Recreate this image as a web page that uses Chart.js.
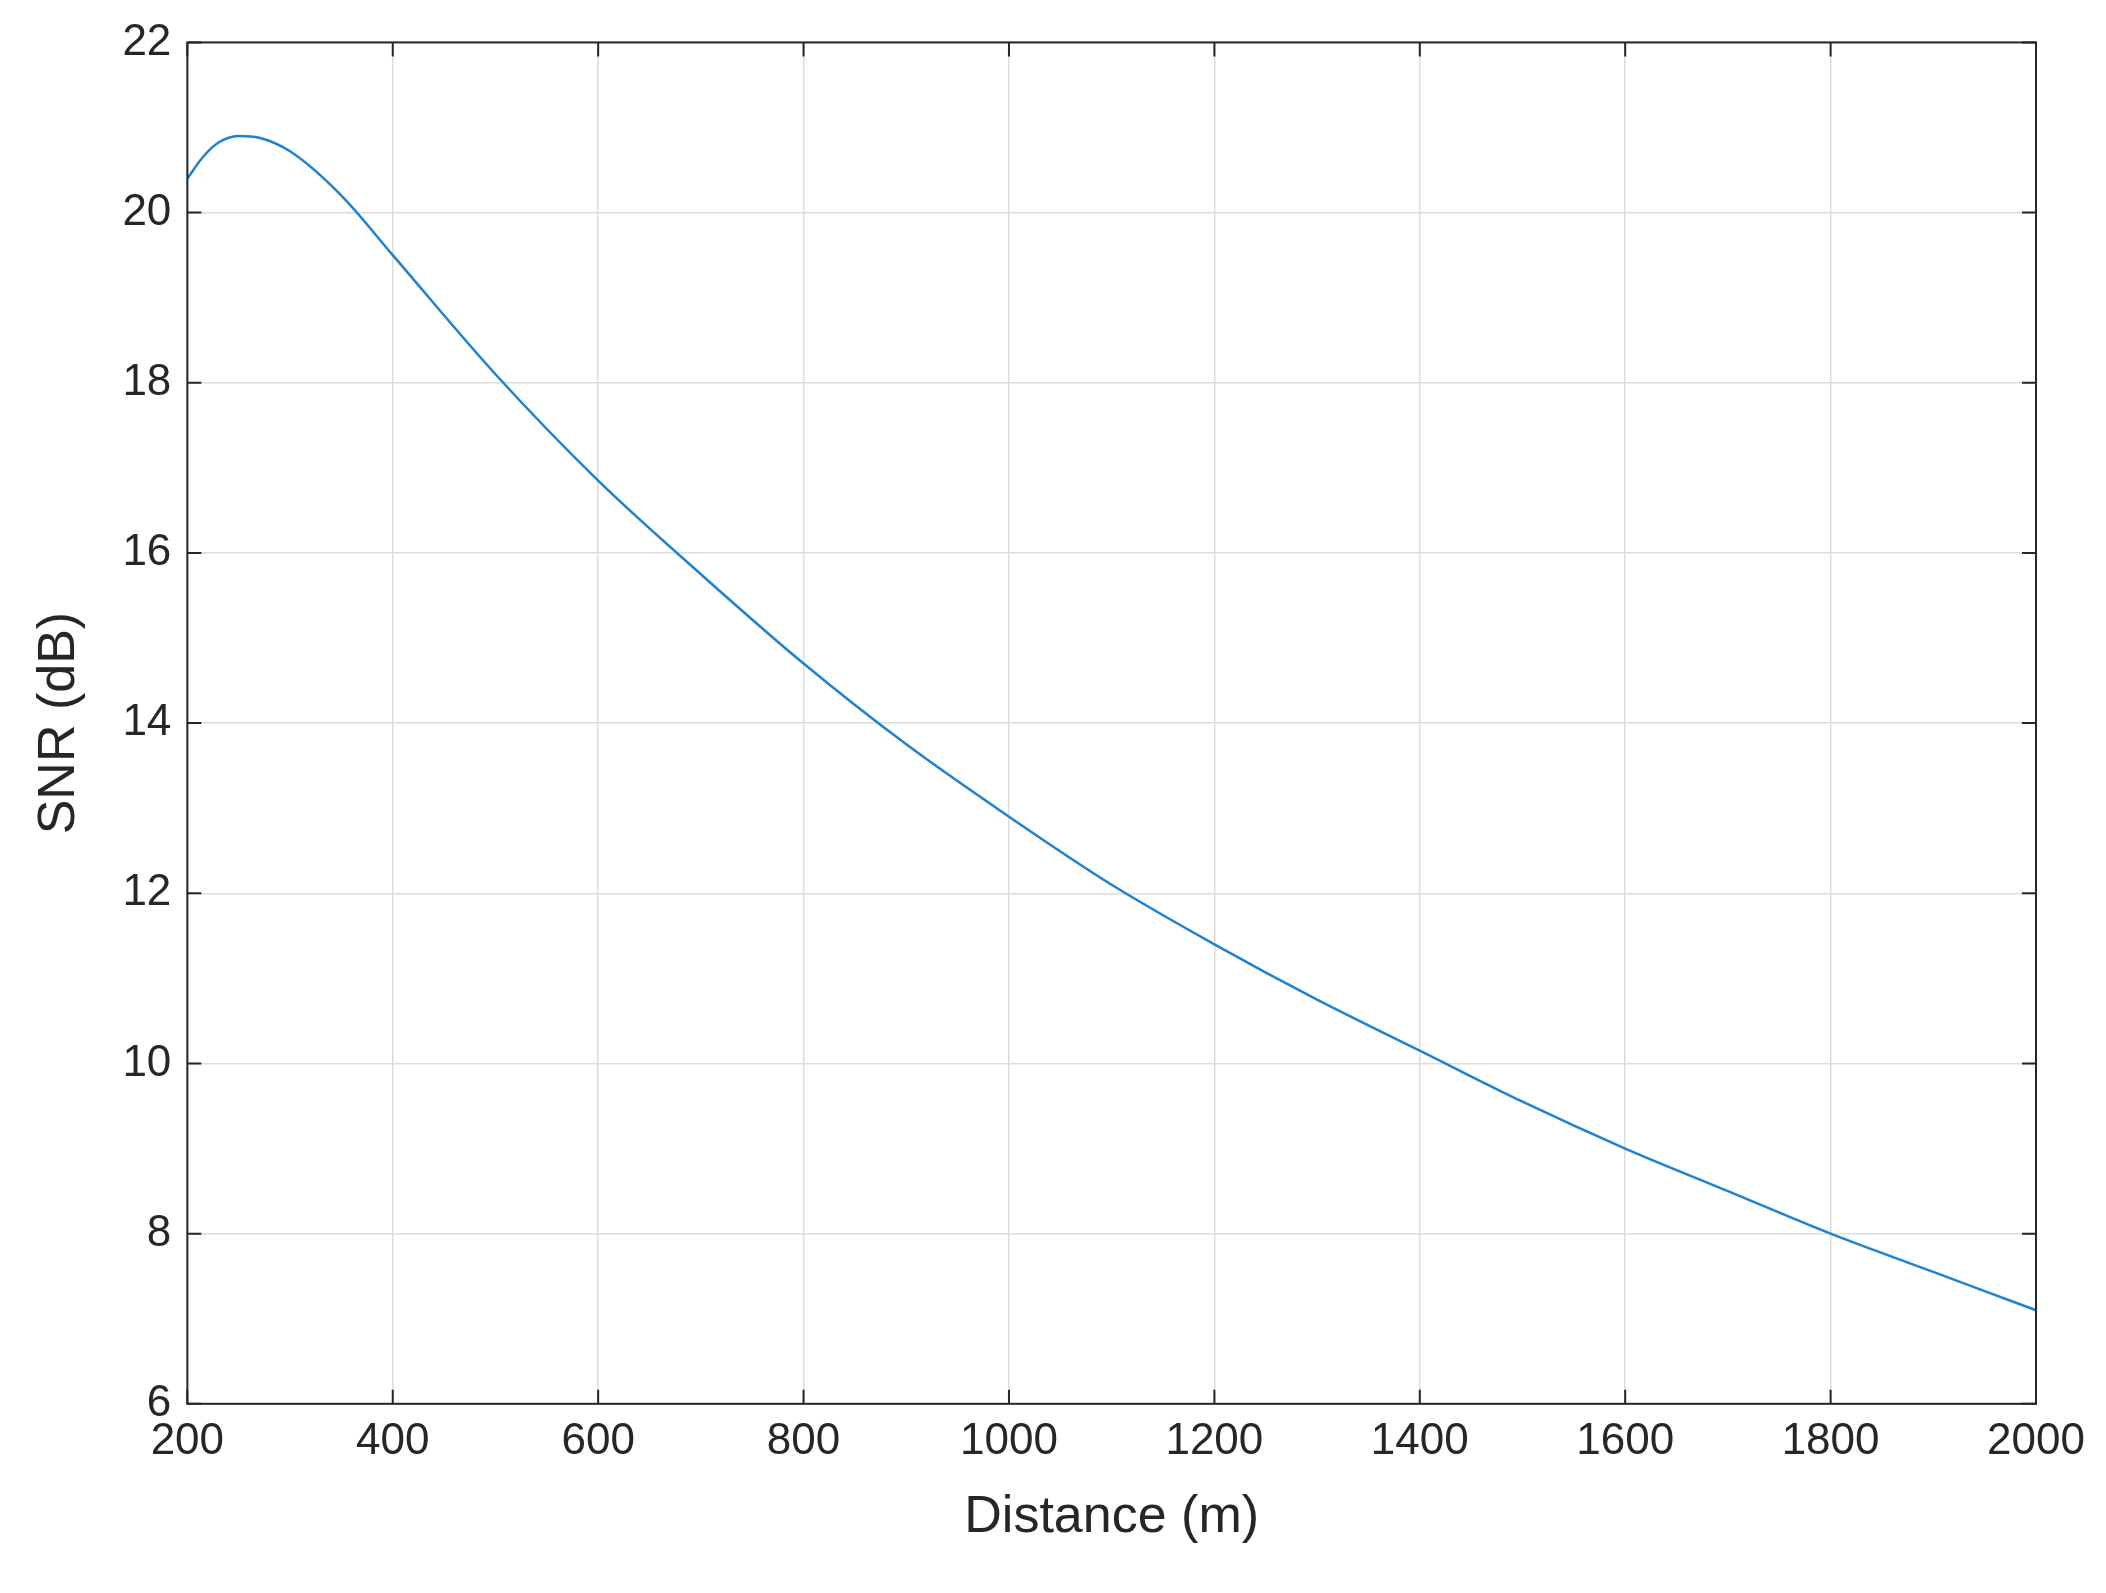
<!DOCTYPE html>
<html>
<head>
<meta charset="utf-8">
<script src="https://cdn.jsdelivr.net/npm/chart.js@4/dist/chart.umd.min.js"></script>
<style>
  body { margin: 0; background: #fff; }
</style>
</head>
<body>
<canvas id="c" width="2106" height="1593"></canvas>
<script>
const distance = [200, 215, 230, 250, 270, 300, 350, 400, 500, 600, 700, 800, 900, 1000, 1100, 1200, 1300, 1400, 1500, 1600, 1700, 1800, 1900, 2000];
const snr = [20.4, 20.65, 20.82, 20.9, 20.88, 20.72, 20.2, 19.5, 18.1, 16.85, 15.75, 14.7, 13.75, 12.9, 12.1, 11.4, 10.75, 10.15, 9.55, 9.0, 8.5, 8.0, 7.55, 7.1];
const xTicks = [200, 400, 600, 800, 1000, 1200, 1400, 1600, 1800, 2000];
const yTicks = [6, 8, 10, 12, 14, 16, 18, 20, 22];

// MATLAB style box with inward ticks
const boxPlugin = {
    id: 'box',
    afterDraw(chart) {
        const { ctx, chartArea: a, scales } = chart;
        ctx.save();
        ctx.strokeStyle = '#262626';
        ctx.lineWidth = 2;
        ctx.strokeRect(a.left, a.top, a.right - a.left, a.bottom - a.top);
        const len = 14;
        ctx.beginPath();
        xTicks.forEach(v => {
            const x = scales.x.getPixelForValue(v);
            ctx.moveTo(x, a.bottom); ctx.lineTo(x, a.bottom - len);
            ctx.moveTo(x, a.top); ctx.lineTo(x, a.top + len);
        });
        yTicks.forEach(v => {
            const y = scales.y.getPixelForValue(v);
            ctx.moveTo(a.left, y); ctx.lineTo(a.left + len, y);
            ctx.moveTo(a.right, y); ctx.lineTo(a.right - len, y);
        });
        ctx.stroke();
        ctx.restore();
    }
};

const tickFont = { family: 'Liberation Sans, Arial, sans-serif', size: 44 };
const titleFont = { family: 'Liberation Sans, Arial, sans-serif', size: 52 };

new Chart(document.getElementById('c').getContext('2d'), {
    type: 'line',
    data: {
        datasets: [{
            data: distance.map((d, i) => ({ x: d, y: snr[i] })),
            borderColor: '#1f82d0',
            borderWidth: 2.5,
            pointRadius: 0,
            cubicInterpolationMode: 'monotone',
            fill: false
        }]
    },
    options: {
        responsive: false,
        animation: false,
        layout: { padding: { left: 24, right: 70, top: 34, bottom: 40 } },
        plugins: { legend: { display: false }, tooltip: { enabled: false } },
        scales: {
            x: {
                type: 'linear', min: 200, max: 2000,
                afterBuildTicks: s => { s.ticks = xTicks.map(v => ({ value: v })); },
                grid: { color: '#dcdcdc', lineWidth: 1.5, drawTicks: false },
                border: { display: false },
                ticks: { color: '#262626', font: tickFont, padding: 12, maxRotation: 0, callback: v => String(v) },
                title: { display: true, text: 'Distance (m)', color: '#262626', font: titleFont, padding: { top: 6 } }
            },
            y: {
                min: 6, max: 22,
                afterBuildTicks: s => { s.ticks = yTicks.map(v => ({ value: v })); },
                grid: { color: '#dcdcdc', lineWidth: 1.5, drawTicks: false },
                border: { display: false },
                ticks: { color: '#262626', font: tickFont, padding: 16, callback: v => String(v) },
                title: { display: true, text: 'SNR (dB)', color: '#262626', font: titleFont, padding: { bottom: 16 } }
            }
        }
    },
    plugins: [boxPlugin]
});
</script>
</body>
</html>
